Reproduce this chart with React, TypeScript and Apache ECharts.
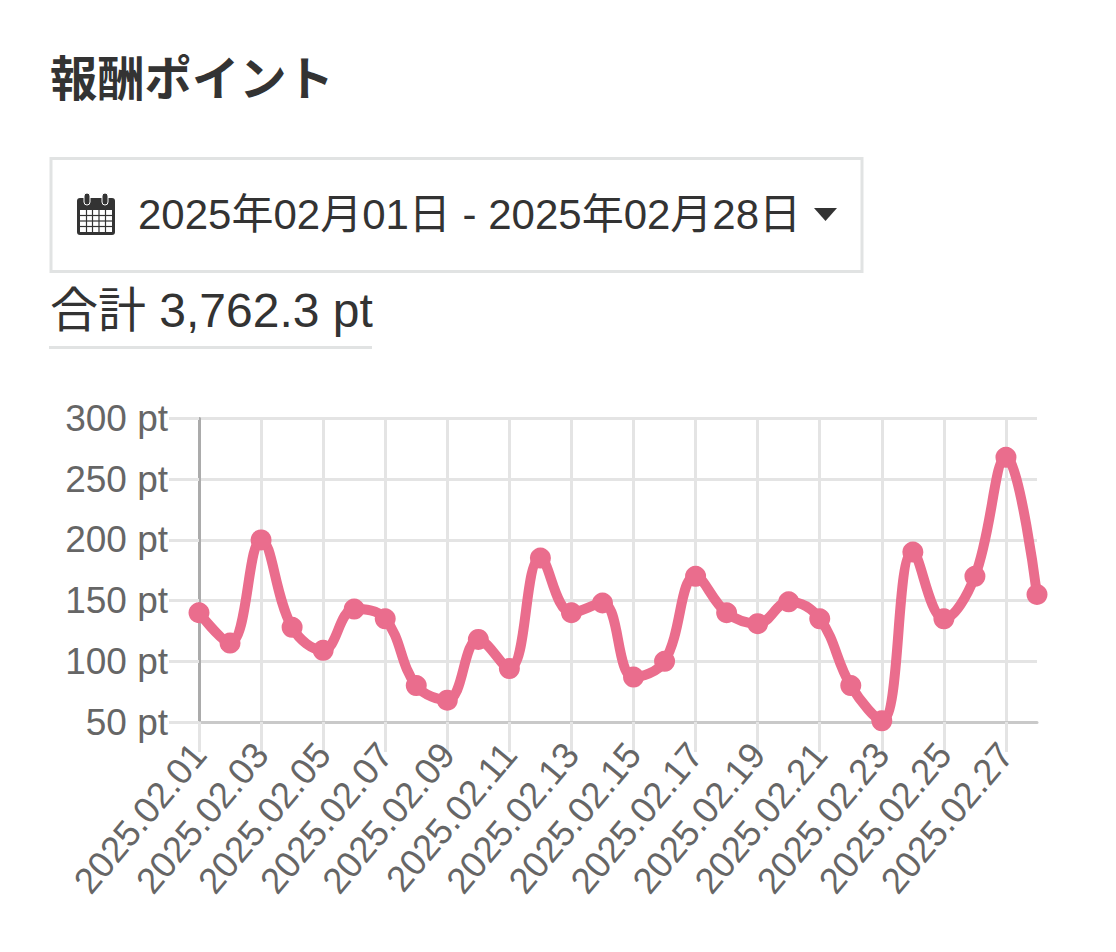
import React, { useEffect, useRef } from "react";
import * as echarts from "echarts";

const titleText = "報酬ポイント";
const rangeText = "2025年02月01日 - 2025年02月28日";
const totalText = "合計 3,762.3 pt";
const categories = [
  "2025.02.01","2025.02.02","2025.02.03","2025.02.04","2025.02.05","2025.02.06","2025.02.07",
  "2025.02.08","2025.02.09","2025.02.10","2025.02.11","2025.02.12","2025.02.13","2025.02.14",
  "2025.02.15","2025.02.16","2025.02.17","2025.02.18","2025.02.19","2025.02.20","2025.02.21",
  "2025.02.22","2025.02.23","2025.02.24","2025.02.25","2025.02.26","2025.02.27","2025.02.28",
];
const points = [
  140, 115, 200, 128, 109, 143, 135, 80, 68, 118, 94, 185, 140, 148,
  87, 100, 170, 140, 131, 149, 135, 80, 51, 190, 135, 170, 268, 155,
];

const FONT = '"Liberation Sans", "Noto Sans CJK JP", sans-serif';
const DARK = "#333333";
const GREY = "#666666";
const PINK = "#EA6D8D";
const BORDER = "#E1E3E3";
const GRID = "#E4E4E4";

function calendarIcon() {
  const c: any[] = [
    { type: "rect", shape: { x: 77, y: 198, width: 38, height: 37, r: 3 }, style: { fill: DARK } },
    { type: "rect", shape: { x: 80, y: 210, width: 32, height: 22 }, style: { fill: "#fff" } },
    { type: "rect", shape: { x: 84, y: 193, width: 6, height: 12, r: 3 }, style: { fill: DARK, stroke: "#fff", lineWidth: 1 } },
    { type: "rect", shape: { x: 102, y: 193, width: 6, height: 12, r: 3 }, style: { fill: DARK, stroke: "#fff", lineWidth: 1 } },
  ];
  [86.5, 92.5, 99, 105.5].forEach((x) =>
    c.push({ type: "line", shape: { x1: x, y1: 210, x2: x, y2: 232 }, style: { stroke: DARK, lineWidth: 1.2 } })
  );
  [215.5, 221, 226.5].forEach((y) =>
    c.push({ type: "line", shape: { x1: 80, y1: y, x2: 112, y2: y }, style: { stroke: DARK, lineWidth: 1.2 } })
  );
  return c;
}

export default function App() {
  const ref = useRef<HTMLDivElement>(null);
  useEffect(() => {
    const chart = echarts.init(ref.current!, undefined, { renderer: "svg" });
    chart.setOption({
      animation: false,
      backgroundColor: "#ffffff",
      grid: { left: 199, right: 79, top: 418.5, bottom: 230, containLabel: false },
      xAxis: {
        type: "category",
        data: categories,
        boundaryGap: false,
        axisLine: { show: true, onZero: false, lineStyle: { color: "#C9C9C9", width: 3 } },
        axisTick: { show: true, interval: 1, length: 30, lineStyle: { color: GRID, width: 3 } },
        splitLine: { show: true, interval: 1, lineStyle: { color: GRID, width: 3 } },
        axisLabel: {
          interval: 1, rotate: 50, margin: 26, color: GREY, fontSize: 36.5, fontFamily: FONT, hideOverlap: false,
        },
      },
      yAxis: {
        type: "value",
        min: 50,
        max: 300,
        interval: 50,
        axisLine: { show: true, lineStyle: { color: "#ABABAB", width: 3 } },
        axisTick: { show: true, length: 30, lineStyle: { color: GRID, width: 3 } },
        splitLine: { show: true, lineStyle: { color: GRID, width: 3 } },
        axisLabel: { margin: 31, color: GREY, fontSize: 37, fontFamily: FONT, formatter: "{value} pt" },
      },
      series: [
        {
          type: "line",
          data: points,
          smooth: 0.4,
          symbol: "circle",
          symbolSize: 21,
          showSymbol: true,
          showAllSymbol: true,
          lineStyle: { color: PINK, width: 10 },
          itemStyle: { color: PINK },
          clip: false,
        },
      ],
      graphic: [
        { type: "text", x: 50, y: 79, style: { text: titleText, font: `bold 47.3px ${FONT}`, fill: DARK, textVerticalAlign: "middle" } },
        { type: "rect", shape: { x: 51, y: 158.5, width: 811, height: 113 }, style: { fill: "none", stroke: BORDER, lineWidth: 3 } },
        ...calendarIcon(),
        { type: "text", x: 138, y: 214, style: { text: rangeText, font: `42px ${FONT}`, fill: DARK, textVerticalAlign: "middle" } },
        { type: "polygon", shape: { points: [[814, 208], [837, 208], [825.5, 221]] }, style: { fill: DARK } },
        { type: "text", x: 50, y: 310, style: { text: totalText, font: `48px ${FONT}`, fill: DARK, textVerticalAlign: "middle" } },
        { type: "rect", shape: { x: 49, y: 346, width: 323, height: 3 }, style: { fill: BORDER } },
      ],
    });
    return () => chart.dispose();
  }, []);
  return <div ref={ref} style={{ position: "fixed", left: 0, top: 0, width: 1116, height: 952 }} />;
}
